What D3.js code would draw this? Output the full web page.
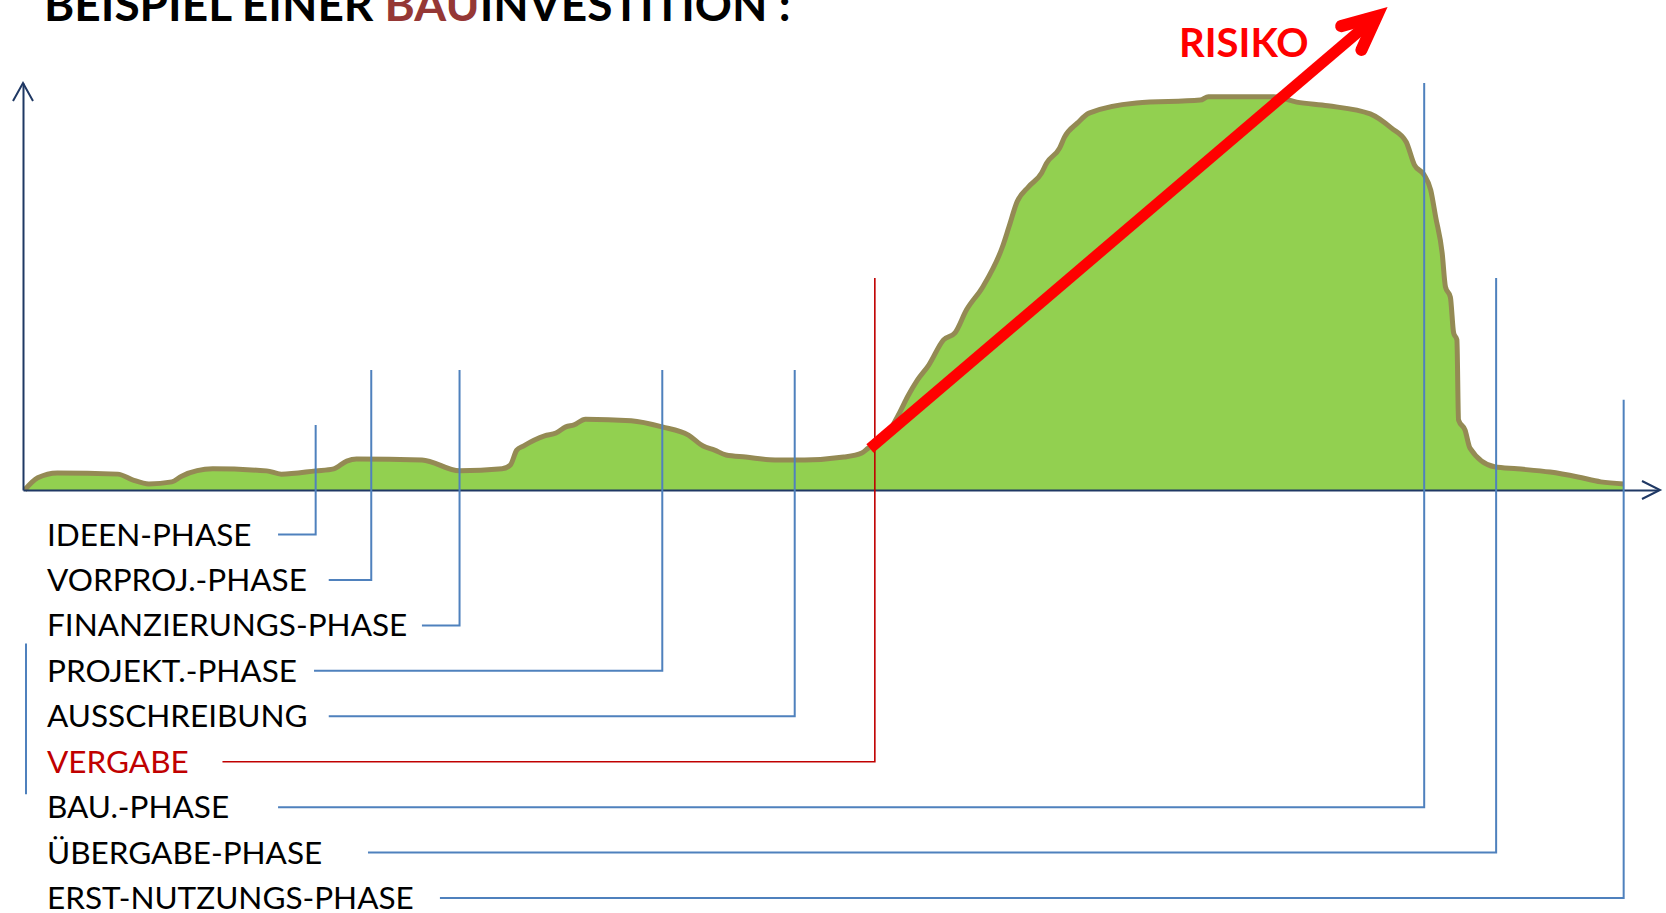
<!DOCTYPE html>
<html>
<head>
<meta charset="utf-8">
<script src="https://cdn.jsdelivr.net/npm/d3@7"></script>
<style>
  body { margin: 0; background: #fff; }
  text { font-family: Lato, "Open Sans", sans-serif; }
</style>
</head>
<body>
<div id="graphWrapper"></div>
<script>
// cost curve of a building project: time (% of duration) vs. cost level (% of peak)
var curveTime = [0.1, 0.9, 2.1, 5.8, 6.7, 7.7, 9.1, 9.7, 11.6, 14.9,
  15.8, 17.9, 19.0, 19.8, 20.4, 24.4, 26.7, 29.3, 29.8, 30.2,
  30.6, 31.9, 32.6, 33.2, 33.7, 34.4, 37.2, 39.1, 40.7, 41.6,
  42.3, 43.0, 44.2, 46.0, 47.8, 50.2, 51.3, 51.7, 52.6, 53.6,
  54.1, 54.7, 55.4, 56.3, 57.0, 57.7, 58.7, 59.9, 60.3, 60.8,
  61.5, 62.3, 62.6, 63.4, 63.7, 64.5, 65.2, 68.1, 72.0, 72.5,
  76.5, 77.9, 79.8, 82.4, 83.7, 84.6, 85.1, 85.7, 86.1, 86.4,
  86.8, 87.0, 87.3, 87.5, 87.7, 87.8, 88.2, 88.5, 90.0, 91.4,
  93.4, 95.1, 96.5, 97.9]
var curveLevel = [0, 3.0, 4.2, 3.9, 2.5, 1.5, 2.0, 3.4, 5.2, 4.7,
  3.9, 4.7, 5.2, 7.1, 7.6, 7.4, 4.7, 5.2, 6.1, 9.8,
  10.8, 13.3, 14.0, 15.5, 16.0, 17.4, 17.0, 15.5, 13.5, 10.8,
  9.8, 8.6, 8.1, 7.4, 7.4, 8.1, 9.1, 10.3, 12.3, 18.9,
  22.9, 27.0, 30.7, 36.9, 38.6, 44.2, 49.9, 59.7, 64.6, 70.8,
  74.5, 77.9, 80.3, 84.0, 86.7, 90.2, 92.6, 95.1, 95.8, 96.6,
  96.6, 95.3, 94.4, 92.4, 88.9, 85.5, 79.9, 77.4, 73.7, 67.1,
  58.2, 49.9, 47.4, 38.6, 36.9, 17.2, 14.7, 10.3, 5.7, 5.2,
  4.4, 3.2, 2.0, 1.5]

// phases: where each one ends on the time axis and how high its marker goes
var phaseNames = ["IDEEN-PHASE", "VORPROJ.-PHASE", "FINANZIERUNGS-PHASE", "PROJEKT.-PHASE",
  "AUSSCHREIBUNG", "VERGABE", "BAU.-PHASE", "ÜBERGABE-PHASE", "ERST-NUTZUNGS-PHASE"]
var phaseEnd = [17.9, 21.3, 26.7, 39.1, 47.2, 52.1, 85.7, 90.1, 97.9]
var phaseTop = [16.0, 29.5, 29.5, 29.5, 29.5, 52.1, 100, 52.1, 22.2]
// where the connector under each label starts (time axis units)
var phaseLink = [15.6, 18.7, 24.4, 17.8, 18.7, 12.2, 15.6, 21.1, 25.5]
var HIGHLIGHT = "VERGABE"

// risk arrow from the award point upwards
var riskFrom = [51.8, 10.2]
var riskTo = [82.8, 116.4]

var titleParts = ["BEISPIEL EINER ", "BAU", "INVESTITION :"]

var WIDTH = 1666, HEIGHT = 913
var AXIS_COLOR = "#1F3864", BLUE = "#4F81BD", DARK_RED = "#C00000"

var svg = d3.select("#graphWrapper").append("svg")
    .attr("width", WIDTH)
    .attr("height", HEIGHT)

var x = d3.scaleLinear().domain([0, 100]).range([23, 1658])
var y = d3.scaleLinear().domain([0, 100]).range([490, 83])
var row = d3.scalePoint().domain(phaseNames).range([534.5, 898])

var curve = curveTime.map(function(t, i) { return [t, curveLevel[i]] })

// green area with olive outline
svg.append("path")
    .datum(curve)
    .attr("fill", "#92D050")
    .attr("d", d3.area()
      .x(function(d) { return x(d[0]) })
      .y0(y(0))
      .y1(function(d) { return y(d[1]) })
      .curve(d3.curveMonotoneX))

svg.append("path")
    .datum(curve)
    .attr("fill", "none")
    .attr("stroke", "#948A54")
    .attr("stroke-width", 5)
    .attr("stroke-linejoin", "round")
    .attr("d", d3.line()
      .x(function(d) { return x(d[0]) })
      .y(function(d) { return y(d[1]) })
      .curve(d3.curveMonotoneX))

// axes without ticks, open arrow heads at the ends
var xAxis = svg.append("g")
    .attr("transform", "translate(0," + y(0) + ")")
    .call(d3.axisBottom(x).tickValues([]).tickSizeOuter(0))
var yAxis = svg.append("g")
    .attr("transform", "translate(" + x(0) + ",0)")
    .call(d3.axisLeft(y).tickValues([]).tickSizeOuter(0))
svg.selectAll(".domain").attr("stroke", AXIS_COLOR).attr("stroke-width", 2)

svg.append("path")
    .attr("d", "M" + (x(100) - 16) + "," + (y(0) - 9) + "L" + (x(100) + 2) + "," + y(0) + "L" + (x(100) - 16) + "," + (y(0) + 9))
    .attr("fill", "none").attr("stroke", AXIS_COLOR).attr("stroke-width", 2)
svg.append("path")
    .attr("d", "M" + (x(0) - 10) + "," + (y(100) + 18) + "L" + x(0) + "," + y(100) + "L" + (x(0) + 10) + "," + (y(100) + 18))
    .attr("fill", "none").attr("stroke", AXIS_COLOR).attr("stroke-width", 2)

// phase markers: up from the time axis, over to the label
phaseNames.forEach(function(name, i) {
    var ry = row(name)
    svg.append("path")
      .attr("d", "M" + x(phaseLink[i]) + "," + ry + "H" + x(phaseEnd[i]) + "V" + y(phaseTop[i]))
      .attr("fill", "none")
      .attr("stroke", name == HIGHLIGHT ? DARK_RED : BLUE)
      .attr("stroke-width", name == HIGHLIGHT ? 1.6 : 2)

    svg.append("text")
      .attr("x", 47)
      .attr("y", ry + 11)
      .attr("font-size", "31.5px")
      .attr("fill", name == HIGHLIGHT ? DARK_RED : "#000")
      .text(name)
})

// small bracket left of the middle labels
svg.append("line")
    .attr("x1", 26).attr("x2", 26)
    .attr("y1", row("FINANZIERUNGS-PHASE") + 18)
    .attr("y2", row("BAU.-PHASE") - 13)
    .attr("stroke", BLUE).attr("stroke-width", 2)

// risk arrow
var p0 = [x(riskFrom[0]), y(riskFrom[1])]
var p1 = [x(riskTo[0]), y(riskTo[1])]
var ang = Math.atan2(p1[1] - p0[1], p1[0] - p0[0])
var armLen = 37, spread = 25 * Math.PI / 180
var arm = function(s) {
    return [p1[0] - armLen * Math.cos(ang + s), p1[1] - armLen * Math.sin(ang + s)]
}
svg.append("line")
    .attr("x1", p0[0]).attr("y1", p0[1])
    .attr("x2", p1[0]).attr("y2", p1[1])
    .attr("stroke", "#FF0000").attr("stroke-width", 11)
svg.append("path")
    .attr("d", "M" + arm(spread) + "L" + p1 + "L" + arm(-spread))
    .attr("fill", "none")
    .attr("stroke", "#FF0000")
    .attr("stroke-width", 12)
    .attr("stroke-linecap", "round")
    .attr("stroke-linejoin", "miter")

svg.append("text")
    .attr("x", 1179)
    .attr("y", 57)
    .attr("font-size", "40px")
    .attr("font-weight", "bold")
    .attr("fill", "#FF0000")
    .text("RISIKO")

// title, cut at the top edge like the original
svg.append("text")
    .attr("x", 44)
    .attr("y", 21)
    .attr("font-size", "46px")
    .attr("font-weight", "bold")
    .selectAll("tspan")
    .data(titleParts)
  .enter().append("tspan")
    .attr("fill", function(d) { return d == "BAU" ? "#953735" : "#000" })
    .text(function(d) { return d })
</script>
</body>
</html>
